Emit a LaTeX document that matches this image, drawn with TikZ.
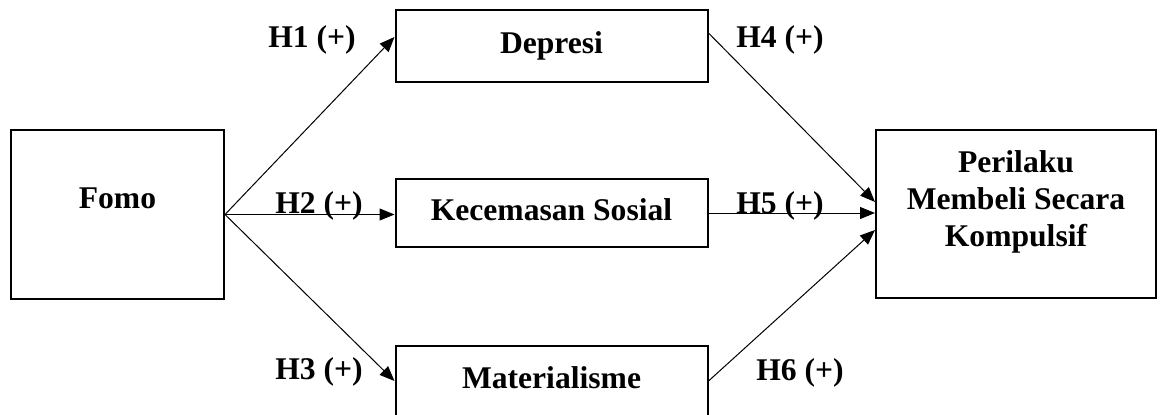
\documentclass[tikz,border=0pt]{standalone}
\usepackage{fontspec}
\setmainfont{Liberation Serif}
\usetikzlibrary{arrows.meta}

\begin{document}
\begin{tikzpicture}[x=0.5pt, y=-0.5pt,
		varbox/.style={draw, line width=1pt, minimum width=156pt, minimum height=35pt, inner sep=0pt, font=\bfseries\fontsize{15.8}{18.5}\selectfont, text height=11pt, text depth=3.5pt},
		bigbox/.style={draw, line width=1pt, inner sep=0pt},
		boxtext/.style={align=center, inner sep=0pt, font=\bfseries\fontsize{15.8}{18.5}\selectfont},
		hyp/.style={anchor=base, inner sep=0pt, font=\bfseries\fontsize{15.8}{18.5}\selectfont},
		panah/.style={-{Triangle[length=7.5pt, width=6pt]}, line width=0.5pt}]
		\useasboundingbox (0,0) rectangle (1160,414);
		% kotak variabel
		\node[bigbox, minimum width=106.5pt, minimum height=84.5pt] (fomo) at (117.5,214.5) {};
		\node[boxtext] (fomotext) at ([yshift=8pt]fomo.center) {Fomo};
		\node[varbox, minimum height=36pt] (depresi) at (551.5,46) {Depresi};
		\node[varbox, minimum height=34pt] (kecemasan) at (551.5,213) {Kecemasan Sosial};
		\node[varbox] (materialisme) at (551.5,381) {Materialisme};
		\node[bigbox, minimum width=140pt, minimum height=84pt] (perilaku) at (1016,214) {};
		\node[boxtext] (perilakutext) at ([yshift=6.25pt]perilaku.center) {Perilaku\\Membeli Secara\\Kompulsif};
		% hipotesis
		\draw[panah] (fomo.east) -- ([yshift=4.5pt]depresi.west);
		\draw[panah] (fomo.east) -- (kecemasan.west |- fomo.east);
		\draw[panah] (fomo.east) -- (materialisme.west);
		\draw[panah] ([yshift=6.5pt]depresi.east) -- ([yshift=6pt]perilaku.west);
		\draw[panah] (kecemasan.east) -- (kecemasan.east -| perilaku.west);
		\draw[panah] (materialisme.east) -- ([yshift=-8pt]perilaku.west);
		\node[hyp] (h1) at (312,47) {H1 (+)};
		\node[hyp] (h2) at (319,213) {H2 (+)};
		\node[hyp] (h3) at (319,379) {H3 (+)};
		\node[hyp] (h4) at (780,47) {H4 (+)};
		\node[hyp] (h5) at (780,213) {H5 (+)};
		\node[hyp] (h6) at (800,380) {H6 (+)};
\end{tikzpicture}
\end{document}
